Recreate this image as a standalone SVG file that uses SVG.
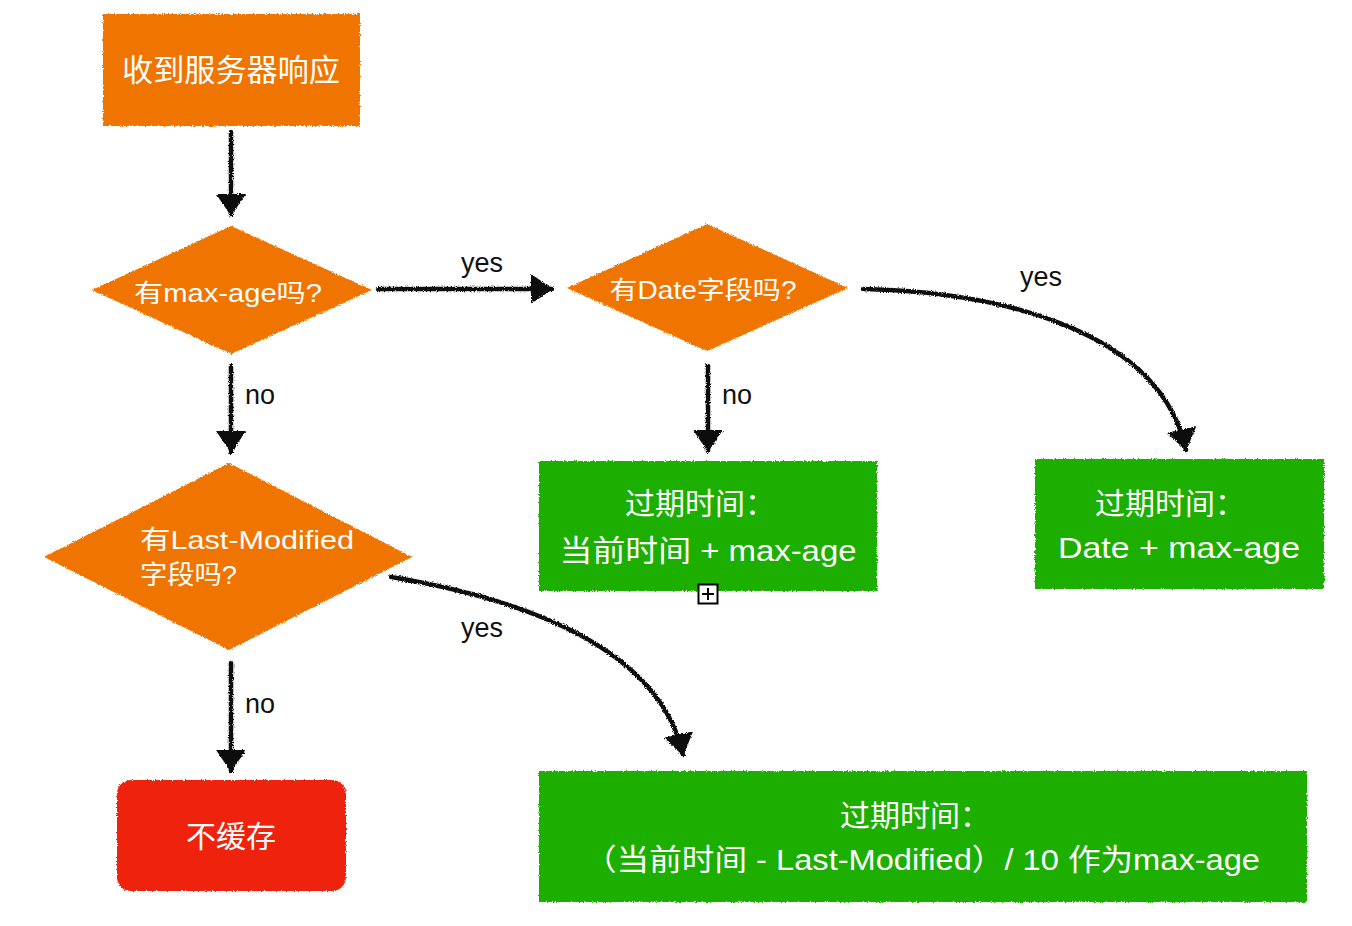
<svg xmlns="http://www.w3.org/2000/svg" width="1352" height="926" viewBox="0 0 1352 926">
<defs>
<filter id="rough" x="-5%" y="-5%" width="110%" height="110%">
<feTurbulence type="fractalNoise" baseFrequency="0.9" numOctaves="2" seed="3" result="n"/>
<feDisplacementMap in="SourceGraphic" in2="n" scale="3.5" xChannelSelector="R" yChannelSelector="G"/>
</filter>
<marker id="arr" markerUnits="userSpaceOnUse" viewBox="0 0 22 30" refX="21" refY="15" markerWidth="22" markerHeight="30" orient="auto">
<path d="M0,0 L22,15 L0,30 Z" fill="#111"/>
</marker>
<style>
.orange{fill:#F07400}
.green{fill:#1EAF00}
.red{fill:#EE2410}
.t{font-family:"Liberation Sans","Noto Sans CJK SC",sans-serif;fill:#fff}
.lbl{font-family:"Liberation Sans","Noto Sans CJK SC",sans-serif;font-size:27px;fill:#111}
.c{fill:none;stroke:#111;stroke-width:4.5;stroke-linecap:round}
</style>
</defs>

<g id="connectors" filter="url(#rough)">
<path class="c" d="M231,132 L231,215" marker-end="url(#arr)"/>
<path class="c" d="M378,289 L552,289" marker-end="url(#arr)"/>
<path class="c" d="M863,289 C1000,292 1160,330 1186,450" marker-end="url(#arr)"/>
<path class="c" d="M708,366 L708,451" marker-end="url(#arr)"/>
<path class="c" d="M231,366 L231,452" marker-end="url(#arr)"/>
<path class="c" d="M391,577 C530,600 660,650 683,755" marker-end="url(#arr)"/>
<path class="c" d="M231,663 L231,771" marker-end="url(#arr)"/>
</g>
<g id="labels">
<text class="lbl" x="482" y="272" text-anchor="middle">yes</text>
<text class="lbl" x="1041" y="286" text-anchor="middle">yes</text>
<text class="lbl" x="245" y="404">no</text>
<text class="lbl" x="722" y="404">no</text>
<text class="lbl" x="482" y="637" text-anchor="middle">yes</text>
<text class="lbl" x="245" y="713">no</text>
</g>

<g id="n-start">
<rect class="orange" x="103" y="14" width="257" height="112" filter="url(#rough)"/>
<text class="t" x="231" y="81" font-size="31" text-anchor="middle" textLength="218" lengthAdjust="spacingAndGlyphs">收到服务器响应</text>
</g>

<g id="n-maxage">
<polygon class="orange" points="231,226 372,290 231,354 92,290" filter="url(#rough)"/>
<text class="t" x="228" y="302" font-size="25" text-anchor="middle" textLength="188" lengthAdjust="spacingAndGlyphs">有max-age吗?</text>
</g>

<g id="n-date">
<polygon class="orange" points="707,224 848,288 707,351 567,288" filter="url(#rough)"/>
<text class="t" x="703" y="299" font-size="25" text-anchor="middle" textLength="187" lengthAdjust="spacingAndGlyphs">有Date字段吗?</text>
</g>

<g id="n-lastmod">
<polygon class="orange" points="229,463 412,557 229,650 44,557" filter="url(#rough)"/>
<text class="t" x="140" y="549" font-size="26" textLength="214" lengthAdjust="spacingAndGlyphs">有Last-Modified</text>
<text class="t" x="140" y="584" font-size="26" textLength="97" lengthAdjust="spacingAndGlyphs">字段吗?</text>
</g>

<g id="n-exp1">
<rect class="green" x="539" y="461" width="338" height="130" filter="url(#rough)"/>
<text class="t" x="700" y="514" font-size="30" text-anchor="middle">过期时间：</text>
<text class="t" x="708" y="561" font-size="30" text-anchor="middle" textLength="297" lengthAdjust="spacingAndGlyphs">当前时间 + max-age</text>
</g>

<g id="icon">
<rect x="698.5" y="584.5" width="19" height="19" fill="#fff" stroke="#000" stroke-width="2"/>
<path d="M702,594 H714 M708,588 V600" stroke="#000" stroke-width="2"/>
</g>

<g id="n-exp2">
<rect class="green" x="1035" y="459" width="289" height="130" filter="url(#rough)"/>
<text class="t" x="1170" y="514" font-size="30" text-anchor="middle">过期时间：</text>
<text class="t" x="1179" y="558" font-size="30" text-anchor="middle" textLength="242" lengthAdjust="spacingAndGlyphs">Date + max-age</text>
</g>

<g id="n-nocache">
<rect class="red" x="117" y="780" width="229" height="111" rx="14" filter="url(#rough)"/>
<text class="t" x="231" y="847" font-size="30" text-anchor="middle">不缓存</text>
</g>

<g id="n-exp3">
<rect class="green" x="539" y="771" width="768" height="131" filter="url(#rough)"/>
<text class="t" x="915" y="826" font-size="30" text-anchor="middle">过期时间：</text>
<text class="t" x="922" y="870" font-size="30" text-anchor="middle" textLength="676" lengthAdjust="spacingAndGlyphs">（当前时间 - Last-Modified）/ 10 作为max-age</text>
</g>
</svg>
